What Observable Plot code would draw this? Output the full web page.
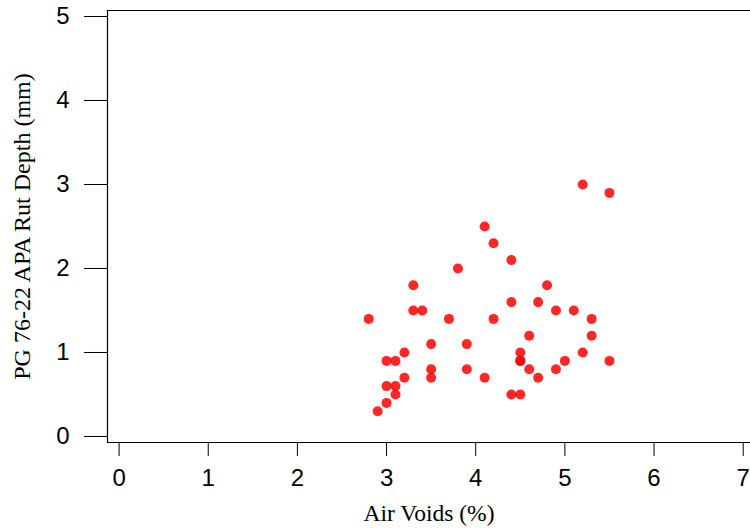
<!DOCTYPE html>
<html>
<head>
<meta charset="utf-8">
<script src="https://cdn.jsdelivr.net/npm/d3@7"></script>
<script src="https://cdn.jsdelivr.net/npm/@observablehq/plot@0.6"></script>
<style>
  html, body { margin: 0; padding: 0; background: #fff; }
  svg { display: block; }
</style>
</head>
<body>
<div id="chart"></div>
<script>
const airVoids = [2.8, 2.9, 3.0, 3.0, 3.0, 3.1, 3.1, 3.1, 3.2, 3.2, 3.3, 3.3, 3.4, 3.5, 3.5, 3.5, 3.7, 3.8, 3.9, 3.9, 4.1, 4.1, 4.2, 4.2, 4.4, 4.4, 4.4, 4.5, 4.5, 4.5, 4.5, 4.6, 4.6, 4.7, 4.7, 4.8, 4.9, 4.9, 5.0, 5.1, 5.2, 5.2, 5.3, 5.3, 5.5, 5.5];
const rutDepth = [1.4, 0.3, 0.9, 0.6, 0.4, 0.9, 0.6, 0.5, 1.0, 0.7, 1.8, 1.5, 1.5, 1.1, 0.8, 0.7, 1.4, 2.0, 1.1, 0.8, 2.5, 0.7, 2.3, 1.4, 2.1, 1.6, 0.5, 1.0, 0.9, 0.9, 0.5, 1.2, 0.8, 1.6, 0.7, 1.8, 1.5, 0.8, 0.9, 1.5, 3.0, 1.0, 1.4, 1.2, 2.9, 0.9];
const xTicks = [0, 1, 2, 3, 4, 5, 6, 7];
const yTicks = [0, 1, 2, 3, 4, 5];
const xTitle = "Air Voids (%)";
const yTitle = "PG 76-22 APA Rut Depth (mm)";

const data = airVoids.map((x, i) => ({x, y: rutDepth[i]}));
const xDomain = [-0.13, 7.082];
const yDomain = [-0.0715, 5.0715];
const serif = "Liberation Serif, Times New Roman, serif";

const chart = Plot.plot({
  width: 750,
  height: 531,
  marginLeft: 107,
  marginRight: 0,
  marginTop: 10,
  marginBottom: 89,
  style: {fontFamily: "Liberation Sans, Arial, sans-serif", background: "#fff"},
  x: {domain: xDomain, ticks: xTicks, label: null},
  y: {domain: yDomain, ticks: yTicks, label: null},
  marks: [
    Plot.axisX({ticks: xTicks, tickFormat: d => String(d), tickSize: 14, tickPadding: 12, fontSize: 24, stroke: "#000", strokeOpacity: 1, fill: "#000", label: null}),
    Plot.axisY({ticks: yTicks, tickFormat: d => String(d), tickSize: 23, tickPadding: 15, fontSize: 24, stroke: "#000", strokeOpacity: 1, fill: "#000", label: null}),
    Plot.ruleX([xDomain[0]], {stroke: "#000", strokeWidth: 1.2}),
    Plot.ruleY([yDomain[0]], {stroke: "#000", strokeWidth: 1.2}),
    Plot.ruleY([yDomain[1]], {stroke: "#000", strokeWidth: 1.2}),
    Plot.dot(data, {x: "x", y: "y", r: 5, fill: "red", fillOpacity: 0.85, stroke: null}),
    Plot.text([xTitle], {frameAnchor: "bottom", dy: 71, lineAnchor: "middle", textAnchor: "middle", fontSize: 23.5, fontFamily: serif, fill: "#000"}),
    Plot.text([yTitle], {frameAnchor: "left", dx: -85, rotate: -90, lineAnchor: "middle", textAnchor: "middle", fontSize: 24, fontFamily: serif, fill: "#000"})
  ]
});
document.getElementById("chart").appendChild(chart);
</script>
</body>
</html>
